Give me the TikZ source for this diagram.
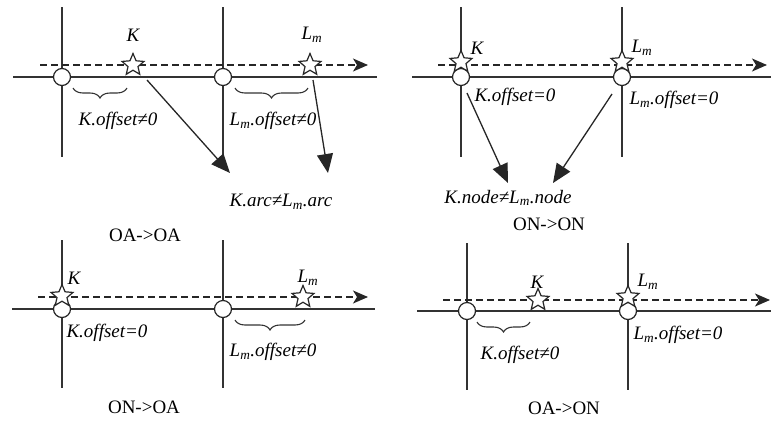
\documentclass[tikz,border=0pt]{standalone}
\usepackage{fontspec}
\setmainfont{Liberation Serif}
\usetikzlibrary{arrows.meta,shapes.geometric,decorations.pathreplacing}

\tikzset{
  road/.style={line width=1.3pt, draw=black!80},
  track/.style={line width=1.4pt, draw=black!85, dash pattern=on 7pt off 4pt,
    -{Stealth[length=15pt,width=13pt,inset=4pt]}},
  junc/.style={circle, draw=black!85, line width=1.2pt, fill=white,
    minimum size=17pt, inner sep=0pt},
  pstar/.style={star, star points=5, star point ratio=2.2, draw=black!85,
    line width=1.2pt, fill=white, minimum size=23pt, inner sep=0pt},
  jump/.style={line width=1.3pt, draw=black!85, -{Triangle[length=19pt,width=16pt]}},
  offbrace/.style={line width=1.1pt, draw=black!80, decorate,
    decoration={brace, mirror, amplitude=10pt}},
  lab/.style={font=\fontsize{19}{22}\selectfont\itshape, inner sep=1pt},
  case/.style={font=\fontsize{19}{22}\selectfont, inner sep=1pt}
}

\begin{document}
\begin{tikzpicture}[x=1pt, y=-1pt]
\useasboundingbox (0,0) rectangle (771,424);

% OA->OA
\draw [road] (62,7) -- (62,157);
\draw [road] (223,7) -- (223,157);
\draw [road] (13,77) -- (377,77);
\draw [track] (40,65) -- (368,65);
\node [junc] (a1) at (62,77) {};
\node [junc] (a2) at (223,77) {};
\node [pstar] (k1) at (133,65) {};
\node [pstar] (l1) at (310,65) {};
\node [lab] (k1l) at (133,35) {K};
\node [lab] (l1l) at (312,35) {L\textsubscript{m}};
\coordinate (b1a) at (73,88);  \coordinate (b1b) at (127,88);
\coordinate (b2a) at (235,88); \coordinate (b2b) at (308,88);
\draw [offbrace] (b1a) -- (b1b);
\draw [offbrace] (b2a) -- (b2b);
\node [lab] (o1) at (118,121) {K.offset≠0};
\node [lab] (o2) at (273,121) {L\textsubscript{m}.offset≠0};
\node [lab] (arc) at (281,202) {K.arc≠L\textsubscript{m}.arc};
\coordinate (k1s) at (147,80);  \coordinate (k1e) at (230,173);
\coordinate (l1s) at (313,80);  \coordinate (l1e) at (328,173);
\draw [jump] (k1s) -- (k1e);
\draw [jump] (l1s) -- (l1e);
\node [case] (c1) at (145,235) {OA->OA};

% ON->ON
\draw [road] (461,7) -- (461,157);
\draw [road] (622,7) -- (622,157);
\draw [road] (412,77) -- (771,77);
\draw [track] (438,65) -- (767,65);
\node [junc] (a3) at (461,77) {};
\node [junc] (a4) at (622,77) {};
\node [pstar] (k2) at (461,62) {};
\node [pstar] (l2) at (622,62) {};
\node [lab] (k2l) at (477,48) {K};
\node [lab] (l2l) at (642,48) {L\textsubscript{m}};
\node [lab] (o3) at (515,97) {K.offset=0};
\node [lab] (o4) at (674,100) {L\textsubscript{m}.offset=0};
\node [lab] (nd) at (508,198) {K.node≠L\textsubscript{m}.node};
\coordinate (k2s) at (467,93);  \coordinate (k2e) at (508,183);
\coordinate (l2s) at (612,94);  \coordinate (l2e) at (553,183);
\draw [jump] (k2s) -- (k2e);
\draw [jump] (l2s) -- (l2e);
\node [case] (c2) at (549,224) {ON->ON};

% ON->OA
\draw [road] (62,240) -- (62,388);
\draw [road] (223,240) -- (223,388);
\draw [road] (12,309) -- (375,309);
\draw [track] (38,297) -- (368,297);
\node [junc] (a5) at (62,309) {};
\node [junc] (a6) at (223,309) {};
\node [pstar] (k3) at (62,296) {};
\node [pstar] (l3) at (303,297) {};
\node [lab] (k3l) at (74,278) {K};
\node [lab] (l3l) at (308,278) {L\textsubscript{m}};
\node [lab] (o5) at (107,333) {K.offset=0};
\coordinate (b3a) at (235,320); \coordinate (b3b) at (305,320);
\draw [offbrace] (b3a) -- (b3b);
\node [lab] (o6) at (273,352) {L\textsubscript{m}.offset≠0};
\node [case] (c3) at (144,407) {ON->OA};

% OA->ON
\draw [road] (467,243) -- (467,390);
\draw [road] (628,243) -- (628,390);
\draw [road] (417,311) -- (771,311);
\draw [track] (443,300) -- (770,300);
\node [junc] (a7) at (467,311) {};
\node [junc] (a8) at (628,311) {};
\node [pstar] (k4) at (538,300) {};
\node [pstar] (l4) at (628,297) {};
\node [lab] (k4l) at (537,282) {K};
\node [lab] (l4l) at (648,282) {L\textsubscript{m}};
\coordinate (b4a) at (477,322); \coordinate (b4b) at (530,322);
\draw [offbrace] (b4a) -- (b4b);
\node [lab] (o7) at (520,355) {K.offset≠0};
\node [lab] (o8) at (678,335) {L\textsubscript{m}.offset=0};
\node [case] (c4) at (564,408) {OA->ON};

\end{tikzpicture}
\end{document}
